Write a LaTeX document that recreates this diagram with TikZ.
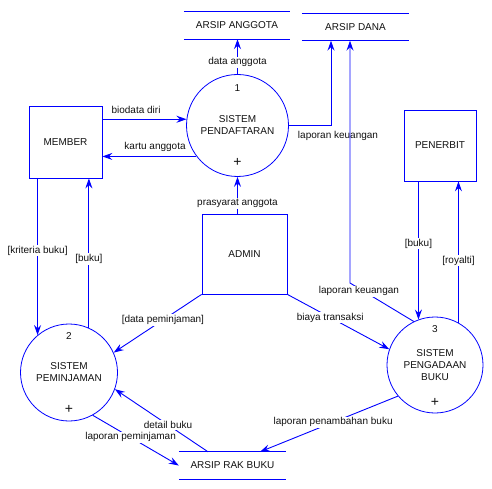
\documentclass[tikz,border=0pt]{standalone}
\usepackage{fontspec}
\setmainfont{Liberation Sans}
\usetikzlibrary{arrows.meta,positioning}
\definecolor{dfd}{HTML}{0000FF}
\definecolor{txt}{HTML}{111111}

\begin{document}
\begin{tikzpicture}[x=1pt,y=-1pt,font=\fontsize{10}{12}\selectfont,text=txt,
  proc/.style={circle,draw=dfd,line width=0.8pt,minimum size=#1,inner sep=0pt,align=center},
  proc/.default=97pt,
  ent/.style={rectangle,draw=dfd,line width=0.8pt,inner sep=0pt},
  store/.style={rectangle,minimum width=107pt,minimum height=27pt,inner sep=0pt},
  plus/.style={font=\fontsize{14}{14}\selectfont,inner sep=0pt},
  arrow/.style={-{Stealth[length=10pt,width=7pt,inset=3.5pt]},draw=dfd,line width=0.9pt},
  lbl/.style={fill=white,inner sep=1pt}]
\useasboundingbox(0,0)rectangle(492,489);
% data stores
\node[store,minimum width=106pt](sAnggota)at(237,25.5){ARSIP ANGGOTA};
\node[store](sDana)at(355.5,27){ARSIP DANA};
\node[store](sRak)at(232.5,465.5){ARSIP RAK BUKU};
\foreach \s in {sAnggota,sDana,sRak}
  \draw[dfd,line width=0.9pt](\s.north west)--(\s.north east)(\s.south west)--(\s.south east);
% processes
\node[proc=102pt](p1)at(237.5,125.5){SISTEM\\PENDAFTARAN};
\node[proc](p2)at(69,372.5){SISTEM\\PEMINJAMAN};
\node[proc=96pt](p3)at(435,365){SISTEM\\PENGADAAN\\BUKU};
\node(n1)at([yshift=-14pt]p1.north){1};
\node(n2)at([yshift=-12pt]p2.north){2};
\node(n3)at([yshift=-12pt]p3.north){3};
\node[plus](x1)at([yshift=14pt]p1.south){+};
\node[plus](x2)at([yshift=12pt]p2.south){+};
\node[plus](x3)at([yshift=11pt]p3.south){+};
% entities
\node[ent,minimum width=73pt,minimum height=72pt](member)at(65.5,142){MEMBER};
\node[ent,minimum width=85pt,minimum height=80pt](admin)at(244.5,254){ADMIN};
\node[ent,minimum width=72pt,minimum height=71pt](penerbit)at(440,145.5){PENERBIT};
\coordinate(kBend)at(350,283);
% flows
\draw[arrow](p1.north)--node[lbl,pos=0.34]{data anggota}(p1.north|-sAnggota.south);
\draw[arrow](p1.173-|member.east)--node[above=2pt,pos=0.4]{biodata diri}(p1.173);
\draw[arrow](p1.217)--node[above=1pt,pos=0.44]{kartu anggota}(p1.217-|member.east);
\draw[arrow](p1.east)-|node[below=2pt,xshift=7pt,pos=0.5]{laporan keuangan}([xshift=-24.5pt]sDana.south);
\draw[arrow](p3.116)--node[lbl,pos=0.86,yshift=-3pt]{laporan keuangan}(kBend)--(kBend|-sDana.south);
\draw[arrow](p3.110|-penerbit.south)--node[lbl,pos=0.45]{[buku]}(p3.110);
\draw[arrow](p3.61)--node[lbl,pos=0.44]{[royalti]}(p3.61|-penerbit.south);
\draw[arrow](p2.130|-member.south)--node[lbl,pos=0.46]{[kriteria buku]}(p2.130);
\draw[arrow](p2.66)--node[lbl,pos=0.46]{[buku]}(p2.66|-member.south);
\draw[arrow](p1.south|-admin.north)--node[lbl,pos=0.27]{prasyarat anggota}(p1.south);
\draw[arrow](admin.south west)--node[lbl,pos=0.44]{[data peminjaman]}(p2.24);
\draw[arrow](admin.south east)--node[lbl,pos=0.42]{biaya transaksi}(p3.161);
\draw[arrow]([xshift=-24.5pt]sRak.north)--node[lbl,pos=0.43]{detail buku}(p2.340);
\draw[arrow](p2.299)--node[lbl,pos=0.44]{laporan peminjaman}(sRak.west);
\draw[arrow](p3.220)--node[lbl,pos=0.47]{laporan penambahan buku}([xshift=27.5pt]sRak.north);
\end{tikzpicture}
\end{document}
